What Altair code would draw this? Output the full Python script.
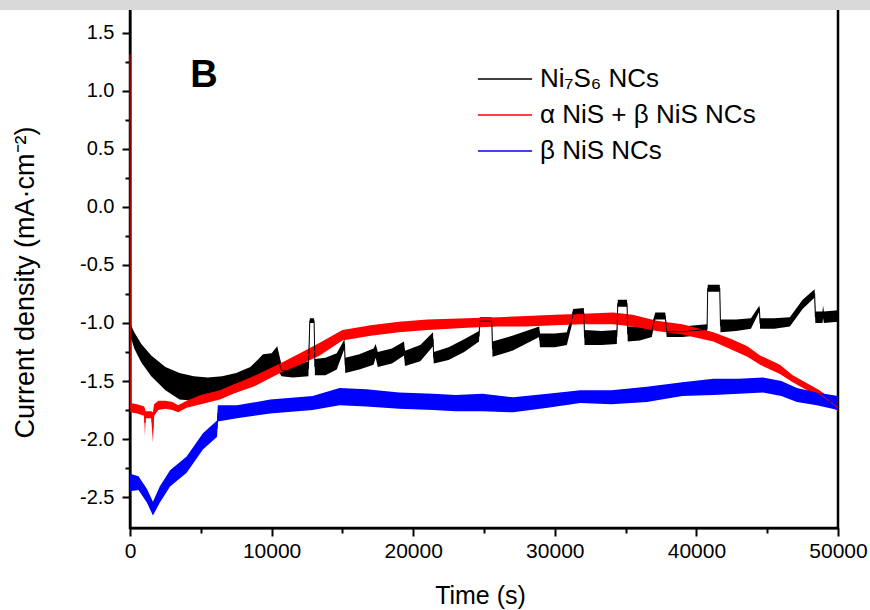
import altair as alt
import pandas as pd

# ---------------- data ----------------
series_names = ["Ni₇S₆ NCs", "α NiS + β NiS NCs", "β NiS NCs"]
series_colors = ["#000000", "#ff0000", "#0000ff"]

# Ni7S6 NCs : noise envelope (lo / hi) of the current density trace
ni7s6_t = [0, 300, 800, 1500, 2500, 3500, 4500, 5500, 6500, 7500, 8500, 9400, 10000, 10400,
           10700, 11500, 12600, 12700, 13000, 13060, 13800, 14600, 15150, 15200, 16200, 17200,
           17350, 17500, 18500, 19350, 19420, 20500, 21400, 21450, 22500, 23600, 24650, 24700,
           25550, 25600, 27000, 28900, 28950, 30000, 30850, 31300, 32050, 32100, 33300, 34380,
           34450, 35100, 35150, 36000, 36850, 37100, 37800, 37900, 39000, 40750, 40800, 41650,
           41700, 42800, 43850, 44450, 44500, 45500, 46600, 47500, 48350, 48400, 48900, 48950,
           49000, 50000]
ni7s6_lo = [-1.10, -1.22, -1.34, -1.46, -1.58, -1.66, -1.67, -1.65, -1.63, -1.60, -1.55, -1.44,
            -1.43, -1.40, -1.46, -1.47, -1.46, -1.00, -1.00, -1.45, -1.45, -1.40, -1.22, -1.43,
            -1.40, -1.36, -1.30, -1.38, -1.35, -1.28, -1.37, -1.33, -1.20, -1.35, -1.32, -1.25,
            -1.16, -1.02, -1.02, -1.29, -1.24, -1.12, -1.21, -1.21, -1.19, -0.97, -0.95, -1.19,
            -1.19, -1.18, -0.86, -0.86, -1.16, -1.15, -1.12, -0.97, -0.97, -1.12, -1.12, -1.10,
            -0.73, -0.73, -1.08, -1.07, -1.05, -0.90, -1.05, -1.05, -1.03, -0.88, -0.78, -1.00,
            -1.00, -0.96, -1.00, -0.99]
ni7s6_hi = [-1.00, -1.08, -1.18, -1.28, -1.38, -1.43, -1.46, -1.47, -1.46, -1.43, -1.38, -1.27,
            -1.26, -1.20, -1.36, -1.37, -1.33, -0.96, -0.96, -1.31, -1.30, -1.26, -1.14, -1.30,
            -1.27, -1.22, -1.18, -1.25, -1.22, -1.16, -1.24, -1.19, -1.08, -1.25, -1.21, -1.14,
            -1.07, -0.95, -0.95, -1.16, -1.11, -1.03, -1.09, -1.09, -1.08, -0.88, -0.87, -1.06,
            -1.07, -1.06, -0.80, -0.80, -1.03, -1.03, -1.01, -0.91, -0.91, -1.03, -1.03, -1.01,
            -0.67, -0.67, -0.97, -0.97, -0.96, -0.85, -0.96, -0.96, -0.95, -0.80, -0.71, -0.90,
            -0.90, -0.85, -0.90, -0.89]

# alpha NiS + beta NiS NCs
mix_t = [0, 20, 500, 1000, 1060, 1100, 1500, 1620, 1700, 2000, 2500, 3000, 3400, 4000, 5000,
         6350, 7500, 8700, 10600, 12000, 13400, 15000, 17000, 19000, 21000, 23800, 26000, 28000,
         30000, 32000, 34100, 35500, 37200, 39000, 41200, 42500, 43600, 44500, 45900, 46800,
         48700, 50000]
mix_lo = [1.30, -1.77, -1.78, -1.80, -1.98, -1.82, -1.82, -2.03, -1.80, -1.75, -1.74, -1.75,
          -1.77, -1.73, -1.70, -1.66, -1.60, -1.55, -1.43, -1.36, -1.28, -1.15, -1.11, -1.08,
          -1.06, -1.04, -1.03, -1.03, -1.02, -1.01, -1.01, -1.03, -1.07, -1.10, -1.16, -1.23,
          -1.29, -1.36, -1.44, -1.51, -1.64, -1.76]
mix_hi = [1.33, -1.69, -1.70, -1.72, -1.74, -1.76, -1.76, -1.77, -1.70, -1.67, -1.67, -1.68,
          -1.71, -1.67, -1.62, -1.58, -1.52, -1.46, -1.35, -1.26, -1.17, -1.06, -1.02, -0.99,
          -0.97, -0.96, -0.95, -0.94, -0.93, -0.92, -0.91, -0.93, -0.98, -1.01, -1.08, -1.14,
          -1.20, -1.28, -1.36, -1.45, -1.58, -1.70]

# beta NiS NCs
beta_t = [0, 600, 1200, 1620, 2100, 2830, 4000, 5150, 6150, 6200, 7550, 9900, 12900, 14800,
          16700, 19000, 21400, 23000, 24900, 27050, 29500, 31800, 34000, 36500, 39000, 41200,
          43000, 44700, 46000, 47100, 48500, 50000]
beta_lo = [-2.45, -2.44, -2.55, -2.66, -2.55, -2.41, -2.29, -2.09, -1.98, -1.85, -1.82, -1.78,
           -1.75, -1.71, -1.72, -1.74, -1.75, -1.76, -1.76, -1.77, -1.73, -1.69, -1.70, -1.68,
           -1.63, -1.62, -1.61, -1.60, -1.63, -1.68, -1.71, -1.75]
beta_hi = [-2.30, -2.32, -2.43, -2.54, -2.41, -2.27, -2.15, -1.95, -1.84, -1.71, -1.71, -1.66,
           -1.63, -1.56, -1.57, -1.60, -1.61, -1.62, -1.61, -1.64, -1.61, -1.58, -1.58, -1.55,
           -1.51, -1.48, -1.48, -1.47, -1.50, -1.56, -1.60, -1.63]

# panel label
panel_label = ["B"]
panel_t = [5230]
panel_v = [1.13]

# axes
x_domain = [0, 50000]
y_domain = [-2.767, 1.784]
x_major = [0, 10000, 20000, 30000, 40000, 50000]
x_minor = [5000, 15000, 25000, 35000, 45000]
y_major = [-2.5, -2.0, -1.5, -1.0, -0.5, 0.0, 0.5, 1.0, 1.5]
y_minor = [-2.25, -1.75, -1.25, -0.75, -0.25, 0.25, 0.75, 1.25]

FONT = "Liberation Sans"

# ---------------- chart ----------------
xs = alt.Scale(domain=x_domain, nice=False, zero=False)
ys = alt.Scale(domain=y_domain, nice=False, zero=False)
cscale = alt.Scale(domain=series_names, range=series_colors)

x_axis_major = alt.Axis(values=x_major, title="Time (s)", orient="bottom", tickSize=8,
                        tickWidth=2, domainWidth=2, labelFontSize=21, titleFontSize=25,
                        labelPadding=4, titlePadding=22, titleX=350, labelFlush=False,
                        labelOverlap=False, format="d", grid=False)
y_axis_major = alt.Axis(values=y_major, title="Current density (mA·cm⁻²)", orient="left",
                        tickSize=8, tickWidth=2, domainWidth=2, labelFontSize=20,
                        titleFontSize=27, labelPadding=8, titlePadding=40, titleY=282,
                        labelExpr="replace(format(datum.value, '.1f'), '−', '-')",
                        labelFlush=False, labelOverlap=False, grid=False)
x_axis_minor = alt.Axis(values=x_minor, title=None, orient="bottom", tickSize=5, tickWidth=2,
                        labels=False, domain=False, grid=False)
y_axis_minor = alt.Axis(values=y_minor, title=None, orient="left", tickSize=5, tickWidth=2,
                        labels=False, domain=False, grid=False)

legend = alt.Legend(title=None, orient="none", legendX=362, legendY=66,
                    symbolType="M-2.5,0L2.5,0", symbolSize=470,
                    labelFont=FONT, labelFontSize=26, labelColor="black", labelOffset=22,
                    rowPadding=10, padding=0, labelLimit=500)


def make_df(name, t, lo, hi):
    return pd.DataFrame({"series": name, "t": t, "lo": lo, "hi": hi})


dfs = [
    make_df(series_names[0], ni7s6_t, ni7s6_lo, ni7s6_hi),
    make_df(series_names[1], mix_t, mix_lo, mix_hi),
    make_df(series_names[2], beta_t, beta_lo, beta_hi),
]
all_df = pd.concat(dfs, ignore_index=True)

# noise bands, drawn black -> red -> blue
layers = []
for i, df in enumerate(dfs):
    first = i == 0
    layers.append(alt.Chart(df).mark_area(color=series_colors[i], opacity=1).encode(
        x=alt.X("t:Q", scale=xs, axis=x_axis_major if first else None),
        y=alt.Y("lo:Q", scale=ys, axis=y_axis_major if first else None),
        y2="hi:Q",
    ))

# thin traces through the bands (carry the legend)
lines = alt.Chart(all_df).transform_calculate(
    mid="(datum.lo + datum.hi) / 2"
).mark_line(strokeWidth=1).encode(
    x=alt.X("t:Q", scale=xs, axis=None),
    y=alt.Y("mid:Q", scale=ys, axis=None),
    stroke=alt.Stroke("series:N", scale=cscale, legend=legend),
)

label_df = pd.DataFrame({"t": panel_t, "v": panel_v, "label": panel_label})
panel = alt.Chart(label_df).mark_text(font=FONT, fontSize=38, fontWeight="bold",
                                      color="black").encode(
    x=alt.X("t:Q", scale=xs, axis=x_axis_minor),
    y=alt.Y("v:Q", scale=ys, axis=y_axis_minor),
    text="label:N",
)

band = alt.Chart(pd.DataFrame({"k": [0]})).mark_rect(color="#d9d9d9", clip=False).encode(
    x=alt.value(-130), x2=alt.value(740), y=alt.value(0), y2=alt.value(10)
)

chart = alt.layer(*layers, lines, panel, band).resolve_axis(
    x="independent", y="independent"
).properties(
    width=708, height=528,
    padding={"left": 130, "top": 0, "right": 32, "bottom": 82},
    autosize=alt.AutoSizeParams(type="none"),
    background="white",
).configure_view(
    stroke="black", strokeWidth=2.5
).configure_axis(
    labelFont=FONT, titleFont=FONT, labelColor="black", titleColor="black",
    domainColor="black", tickColor="black", titleFontWeight="normal",
)

chart.save("out.html", embed_options={"renderer": "svg", "actions": False})
